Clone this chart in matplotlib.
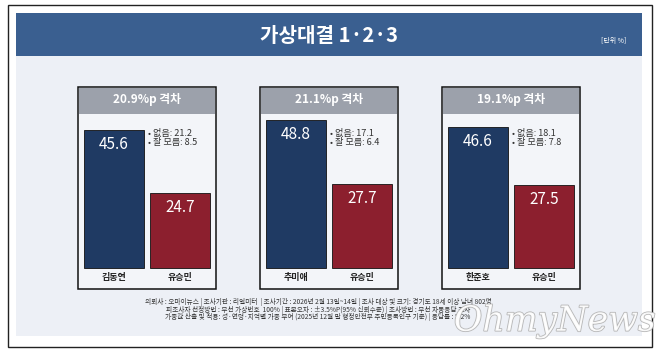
import matplotlib.pyplot as plt
from matplotlib.patches import Rectangle
import matplotlib.patheffects as pe

plt.rcParams['font.family'] = ['Noto Sans CJK KR', 'DejaVu Sans']

# 데이터
후보 = [['김동연', '유승민'], ['추미애', '유승민'], ['한준호', '유승민']]
지지율 = [[45.6, 24.7], [48.8, 27.7], [46.6, 27.5]]
격차 = ['20.9%p 격차', '21.1%p 격차', '19.1%p 격차']
없음 = [21.2, 17.1, 18.1]
잘모름 = [8.5, 6.4, 7.8]

제목 = '가상대결 1·2·3'
단위 = '[단위 %]'
주석 = [
    '의뢰사 : 오마이뉴스 | 조사기관 : 리얼미터  | 조사기간 : 2026년 2월 13일~14일 | 조사 대상 및 크기: 경기도 18세 이상 남녀 802명',
    '피조사자 선정방법 : 무선 가상번호  100% | 표본오차 : ±3.5%P(95% 신뢰수준) | 조사방법 : 무선 자동응답 조사',
    '가중값 산출 및 적용: 성·연령·지역별 가중 부여 (2025년 12월 말 행정안전부 주민등록인구 기준) | 응답률 : 5.2%',
]

파랑 = '#1f3a63'
빨강 = '#8c1f2e'
W, H = 658, 353

fig = plt.figure(figsize=(W / 100, H / 100), dpi=100)
fig.patch.set_facecolor('white')

# 배경 (픽셀 좌표)
bg = fig.add_axes([0, 0, 1, 1])
bg.set_xlim(0, W)
bg.set_ylim(H, 0)
bg.axis('off')
bg.add_patch(Rectangle((8, 5), 644, 342, facecolor='white', edgecolor='#222222', lw=1))
bg.add_patch(Rectangle((16, 56), 626, 280, facecolor='#edf0f6', edgecolor='none'))
bg.add_patch(Rectangle((16, 13), 626, 43, facecolor='#3a5f90', edgecolor='none'))
bg.text(329, 35, 제목, color='white', fontsize=14.5, fontweight='bold', ha='center', va='center')
bg.text(626, 41, 단위, color='white', fontsize=5, ha='right', va='center')

for i, line in enumerate(주석):
    bg.text(318, 302 + i * 7.6, line, fontsize=4.8, ha='center', va='center', color='#333333')

wm = bg.text(656, 321, 'OhmyNews', fontsize=25, style='italic', family='DejaVu Serif',
             ha='right', va='center', color='white', alpha=0.9)
wm.set_path_effects([pe.withStroke(linewidth=1.2, foreground='#b0b0b0')])

패널_x = [78, 260, 442]
for i in range(3):
    x0 = 패널_x[i]
    bg.add_patch(Rectangle((x0, 87), 138, 202, facecolor='#f3f5f9', edgecolor='#111111', lw=1.1, zorder=2))
    bg.add_patch(Rectangle((x0 + 0.6, 87.6), 136.8, 26, facecolor='#9ca1ab', edgecolor='none', zorder=3))
    bg.text(x0 + 69, 100, 격차[i], color='white', fontsize=8.5, fontweight='bold',
            ha='center', va='center', zorder=4)

    # 막대 영역: y 113 ~ 289 px, 기준선 268 px
    ax = fig.add_axes([x0 / W, 1 - 288 / H, 138 / W, (288 - 114) / H])
    ax.set_xlim(-0.545, 1.545)
    ax.set_ylim(-20 / 3.03, (268 - 114) / 3.03)
    ax.axis('off')
    ax.bar([0, 1], 지지율[i], width=0.91, color=[파랑, 빨강], edgecolor='#111111', lw=0.6)
    for j, v in enumerate(지지율[i]):
        ax.text(j, v - 4.8, f'{v}', color='white', fontsize=11, fontweight='medium',
                ha='center', va='center')
        ax.text(j, -3.3, 후보[i][j], fontsize=6.5, fontweight='bold', ha='center', va='center',
                color='#222222')
    ax.text(0.52, (268 - 133) / 3.03, f'• 없음: {없음[i]}', fontsize=6.6, ha='left', va='center',
            color='#333333')
    ax.text(0.52, (268 - 143) / 3.03, f'• 잘 모름: {잘모름[i]}', fontsize=6.6, ha='left', va='center',
            color='#333333')

fig.savefig('out.png', dpi=100)
